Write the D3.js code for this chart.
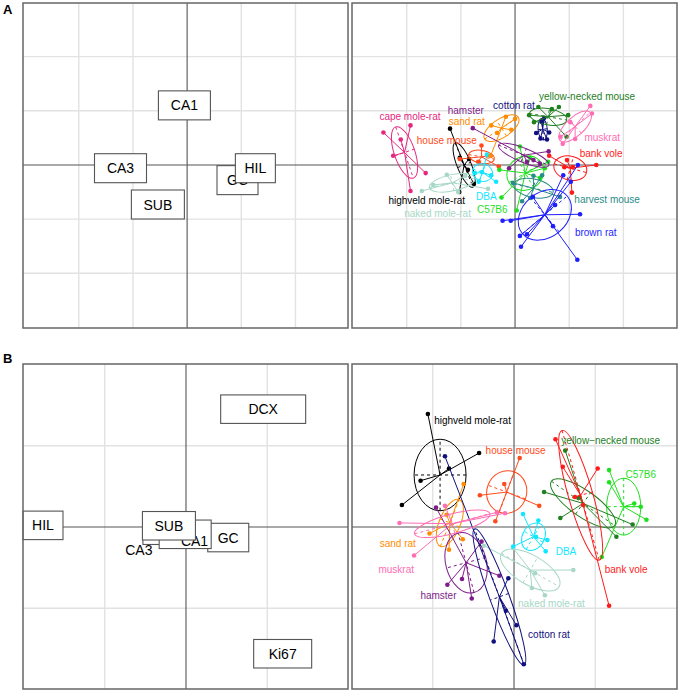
<!DOCTYPE html>
<html><head><meta charset="utf-8">
<script src="https://cdn.jsdelivr.net/npm/d3@7"></script>
<style>body{margin:0;background:#fff}</style>
</head><body>
<script>
// ---------- DATA ----------
const species = ["cape mole-rat","highveld mole-rat","naked mole-rat","house mouse","DBA","C57B6",
  "sand rat","hamster","cotton rat","yellow-necked mouse","muskrat","bank vole","harvest mouse","brown rat"];
const speciesB = [null,"highveld mole-rat","naked mole-rat","house mouse","DBA","C57B6",
  "sand rat","hamster","cotton rat","yellow\u2212necked mouse","muskrat","bank vole",null,null];

// Panel A (left): variable scores
const varNamesA = ["CA1","CA3","SUB","GC","HIL"];
const varXA = [-0.05,-1.23,-0.54,0.93,1.26];
const varYA = [1.10,-0.06,-0.73,-0.28,-0.06];

// Panel B (left): variable scores
const varNamesB = ["HIL","CA3","GC","CA1","SUB","DCX","Ki67"];
const varXB = [-1.76,-0.21,0.52,-0.01,-0.21,0.95,1.19];
const varYB = [0.02,-0.04,-0.13,-0.09,0.015,1.45,-1.56];
const ca3TextB = [-0.58,-0.28];
const ca1TextB = [0.105,-0.17];

// Panel A (right): class centres, ellipses [a, b, angle], points, label positions
const centresA = [[-2.04,0.23],[-0.94,0.00],[-1.16,-0.33],[-0.62,0.15],[-0.60,-0.14],[0.19,-0.15],
  [-0.25,0.68],[0.16,0.18],[0.51,0.66],[0.61,0.89],[1.11,0.71],[1.02,-0.06],[0.34,-0.43],[0.55,-0.92]];
const ellipsesA = [[0.50,0.19,-71],[0.44,0.13,-68],[0.43,0.15,12],[0.24,0.12,-10],[0.19,0.16,-20],[0.35,0.31,30],
  [0.37,0.17,33],[0.50,0.13,-22],[0.20,0.085,95],[0.35,0.15,-10],[0.38,0.17,43],[0.31,0.22,-15],[0.37,0.17,-12],[0.54,0.41,40]];
const pointsA = [
  [[-2.43,0.60],[-1.93,0.73],[-2.11,0.47],[-2.25,0.17],[-1.65,-0.15],[-1.93,-0.48]],
  [[-1.20,0.67],[-1.02,0.13],[-0.85,0.11],[-0.87,-0.09],[-0.76,-0.35],[-1.03,-0.50]],
  [[-1.72,-0.48],[-1.51,-0.37],[-1.05,-0.50],[-0.50,-0.44],[-0.92,-0.20],[-1.26,-0.18]],
  [[-0.62,0.36],[-0.45,0.17],[-1.02,0.11],[-0.30,-0.03],[-0.68,0.06]],
  [[-0.52,0.19],[-0.74,-0.15],[-0.61,-0.13],[-0.67,-0.31],[-0.44,-0.19],[-0.35,-0.31]],
  [[-0.25,-0.60],[0.03,-0.84],[0.09,0.34],[-0.29,-0.09],[0.55,-0.06],[0.61,0.06],[0.28,0.13],[0.46,-0.24]],
  [[-0.44,0.73],[-0.17,0.89],[0.00,0.85],[-0.07,0.65],[-0.33,0.59],[-0.45,0.17]],
  [[-0.78,0.68],[0.62,0.25],[0.34,0.09],[0.22,0.06],[0.46,0.02],[-0.11,-0.06]],
  [[0.49,0.80],[0.54,0.87],[0.39,0.59],[0.47,0.49],[0.59,0.47],[0.63,0.60],[0.50,0.79]],
  [[0.26,0.92],[0.43,1.07],[0.68,1.03],[0.81,1.07],[0.98,0.92],[0.95,0.52],[0.35,0.79]],
  [[1.39,1.09],[1.42,0.95],[0.84,0.52],[0.88,0.39],[1.11,0.48],[1.02,0.79]],
  [[0.63,0.17],[0.91,-0.04],[1.07,-0.04],[1.50,0.00],[1.05,-0.51],[0.96,0.09]],
  [[-0.04,-0.33],[0.34,-0.20],[0.50,-0.19],[0.83,-0.59],[0.28,-0.61],[0.13,-0.67]],
  [[-0.23,-1.03],[-0.08,-1.03],[0.09,-1.31],[0.11,-1.51],[0.22,-1.28],[0.33,-0.59],[0.70,-1.13],
   [1.20,-0.91],[1.15,-1.75],[1.16,0.00],[0.89,-0.19],[1.03,-0.31],[0.74,-0.74]]
];
const labelsA = [[-1.94,0.89],[-1.63,-0.66],[-1.43,-0.90],[-1.26,0.46],[-0.53,-0.59],[-0.42,-0.83],
  [-0.89,0.81],[-0.91,1.00],[-0.02,1.10],[1.33,1.26],[1.61,0.51],[1.59,0.22],[1.70,-0.63],[1.49,-1.25]];

// Panel B (right)
const centresB = [null,[-0.91,0.64],[0.20,-0.53],[-0.09,0.43],[0.24,-0.12],[1.35,0.25],
  [-0.79,0.05],[-0.59,-0.44],[-0.18,-0.86],[0.85,0.29],[-0.76,0.04],[0.82,0.39],null,null];
const ellipsesB = [null,[0.44,0.32,90],[0.41,0.18,-30],[0.265,0.245,70],[0.18,0.135,60],[0.35,0.21,90],
  [0.31,0.13,68],[0.38,0.25,105],[0.89,0.12,110],[0.475,0.16,-35],[0.48,0.12,15],[0.83,0.15,106],null,null];
const pointsB = [null,
  [[-1.06,1.39],[-0.43,0.91],[-0.80,0.72],[-1.15,0.57],[-1.38,0.27]],
  [[0.73,-0.53],[0.22,-0.75],[0.38,-0.84],[-0.37,-0.23],[-0.01,-0.26],[0.26,-0.57]],
  [[0.07,0.85],[-0.42,0.39],[0.31,0.26],[-0.23,0.07],[-0.12,0.53]],
  [[0.11,0.16],[0.30,0.08],[-0.01,-0.24],[0.27,-0.12],[0.39,-0.30],[0.41,-0.16]],
  [[1.17,0.70],[1.17,0.55],[1.48,0.29],[1.56,0.25],[1.63,0.09],[1.08,-0.37]],
  [[-0.62,0.53],[-1.04,-0.08],[-0.80,-0.28],[-0.63,-0.15],[-0.83,0.15]],
  [[-0.40,-0.18],[-0.96,0.24],[-0.82,-0.71],[-0.64,-0.64],[-0.52,-0.88],[-0.18,-0.60]],
  [[-0.85,0.87],[-0.07,-0.63],[-0.10,-1.03],[0.03,-1.21],[-0.25,-1.41],[0.12,-1.69]],
  [[0.63,0.94],[0.37,0.43],[0.57,0.11],[1.26,-0.12],[1.46,0.03],[0.80,0.36]],
  [[-1.41,0.05],[-1.23,-0.35],[-0.85,0.26],[-0.11,0.17],[-0.21,0.18]],
  [[0.51,1.08],[0.60,0.74],[1.03,0.72],[1.17,-0.97],[0.75,0.37],[0.85,0.27]],
  null,null];
const labelsB = [null,[-0.51,1.31],[0.46,-0.94],[0.02,0.94],[0.64,-0.30],[1.56,0.65],
  [-1.43,-0.20],[-0.93,-0.84],[0.43,-1.32],[1.19,1.07],[-1.45,-0.52],[1.38,-0.52],null,null];

// ---------- STYLE / LAYOUT ----------
const colors = ["#E5287F","#000000","#A7D8C6","#FF4A1C","#12E6FF","#1FE01F",
  "#FF8C00","#7E1D8A","#10107E","#1E801E","#FF6EB4","#FF1A1A","#2B8B88","#1E1EFF"];
const boxW = {CA1:52,CA3:52,SUB:53,GC:41,HIL:40,DCX:85,Ki67:58};
const panels = {
  aL:{rx:[23,348], ry:[328,3], dx:[-3.03,2.97], dy:[-3.01,2.99], grid:[-2,-1,1,2]},
  aR:{rx:[352,677], ry:[328,3], dx:[-3.01,2.99], dy:[-3.01,2.99], grid:[-2,-1,1,2]},
  bL:{rx:[23,348], ry:[689,364], dx:[-2.006,1.994], dy:[-1.994,2.006], grid:[-1,1]},
  bR:{rx:[352,677], ry:[689,364], dx:[-1.994,2.006], dy:[-1.994,2.006], grid:[-1,1]}
};
const FONT = "'Liberation Sans', Arial, Helvetica, sans-serif";

const svg = d3.select("body").append("svg").attr("width",680).attr("height",692)
  .style("font-family",FONT);
svg.append("rect").attr("width",680).attr("height",692).attr("fill","#fff");

function makePanel(p){
  const x = d3.scaleLinear().domain(p.dx).range(p.rx);
  const y = d3.scaleLinear().domain(p.dy).range(p.ry);
  const g = svg.append("g");
  const [x0,x1] = p.rx, [y1,y0] = p.ry;
  p.grid.forEach(v=>{
    g.append("line").attr("x1",x(v)).attr("x2",x(v)).attr("y1",y0).attr("y2",y1)
      .attr("stroke","#e2e2e2").attr("stroke-width",1.4);
    g.append("line").attr("y1",y(v)).attr("y2",y(v)).attr("x1",x0).attr("x2",x1)
      .attr("stroke","#e2e2e2").attr("stroke-width",1.4);
  });
  g.append("line").attr("x1",x(0)).attr("x2",x(0)).attr("y1",y0).attr("y2",y1)
    .attr("stroke","#555").attr("stroke-width",1.1);
  g.append("line").attr("y1",y(0)).attr("y2",y(0)).attr("x1",x0).attr("x2",x1)
    .attr("stroke","#555").attr("stroke-width",1.1);
  return {g,x,y,p};
}
function frame(P){
  const [x0,x1] = P.p.rx, [y1,y0] = P.p.ry;
  P.g.append("rect").attr("x",x0).attr("y",y0).attr("width",x1-x0).attr("height",y1-y0)
    .attr("fill","none").attr("stroke","#666").attr("stroke-width",1.5);
}
function labelBoxes(P,names,xs,ys,h,textAt){
  names.forEach((n,i)=>{
    const cx = P.x(xs[i]), cy = P.y(ys[i]), w = boxW[n];
    P.g.append("rect").attr("x",cx-w/2).attr("y",cy-h/2).attr("width",w).attr("height",h)
      .attr("fill","#fff").attr("stroke","#555").attr("stroke-width",1.1);
    let tx = cx, ty = cy;
    if(textAt && textAt[n]){ tx = P.x(textAt[n][0]); ty = P.y(textAt[n][1]); }
    P.g.append("text").attr("x",tx).attr("y",ty).attr("dy","0.36em").attr("text-anchor","middle")
      .attr("font-size",14).attr("fill","#000").text(n);
  });
}
function classes(P,centres,ells,pts,labs,names){
  const k = P.x(1)-P.x(0);
  centres.forEach((c,i)=>{
    if(!c) return;
    const col = colors[i], e = ells[i];
    const cx = P.x(c[0]), cy = P.y(c[1]);
    pts[i].forEach(q=>{
      P.g.append("line").attr("x1",cx).attr("y1",cy).attr("x2",P.x(q[0])).attr("y2",P.y(q[1]))
        .attr("stroke",col).attr("stroke-width",1);
    });
    P.g.append("ellipse").attr("cx",cx).attr("cy",cy).attr("rx",e[0]*k).attr("ry",e[1]*k)
      .attr("transform",`rotate(${-e[2]} ${cx} ${cy})`)
      .attr("fill","none").attr("stroke",col).attr("stroke-width",1);
    const t = e[2]*Math.PI/180;
    [[e[0],t],[e[1],t+Math.PI/2]].forEach(([r,a])=>{
      const ddx = r*Math.cos(a), ddy = r*Math.sin(a);
      P.g.append("line").attr("x1",P.x(c[0]-ddx)).attr("y1",P.y(c[1]-ddy))
        .attr("x2",P.x(c[0]+ddx)).attr("y2",P.y(c[1]+ddy))
        .attr("stroke",col).attr("stroke-width",1).attr("stroke-dasharray","3,3");
    });
    pts[i].forEach(q=>{
      P.g.append("circle").attr("cx",P.x(q[0])).attr("cy",P.y(q[1])).attr("r",2.3).attr("fill",col);
    });
  });
  centres.forEach((c,i)=>{
    if(!c) return;
    P.g.append("text").attr("x",P.x(labs[i][0])).attr("y",P.y(labs[i][1])).attr("dy","0.35em")
      .attr("text-anchor","middle").attr("font-size",10).attr("fill",colors[i]).text(names[i]);
  });
}

// Panel A
const aL = makePanel(panels.aL);
labelBoxes(aL,varNamesA,varXA,varYA,29,null);
frame(aL);
const aR = makePanel(panels.aR);
classes(aR,centresA,ellipsesA,pointsA,labelsA,species);
frame(aR);

// Panel B
const bL = makePanel(panels.bL);
labelBoxes(bL,varNamesB,varXB,varYB,28.5,{CA3:ca3TextB, CA1:ca1TextB});
frame(bL);
const bR = makePanel(panels.bR);
classes(bR,centresB,ellipsesB,pointsB,labelsB,speciesB);
frame(bR);

svg.append("text").attr("x",3).attr("y",14).attr("font-size",13).attr("font-weight","bold").text("A");
svg.append("text").attr("x",3).attr("y",363).attr("font-size",13).attr("font-weight","bold").text("B");
</script>
</body></html>
